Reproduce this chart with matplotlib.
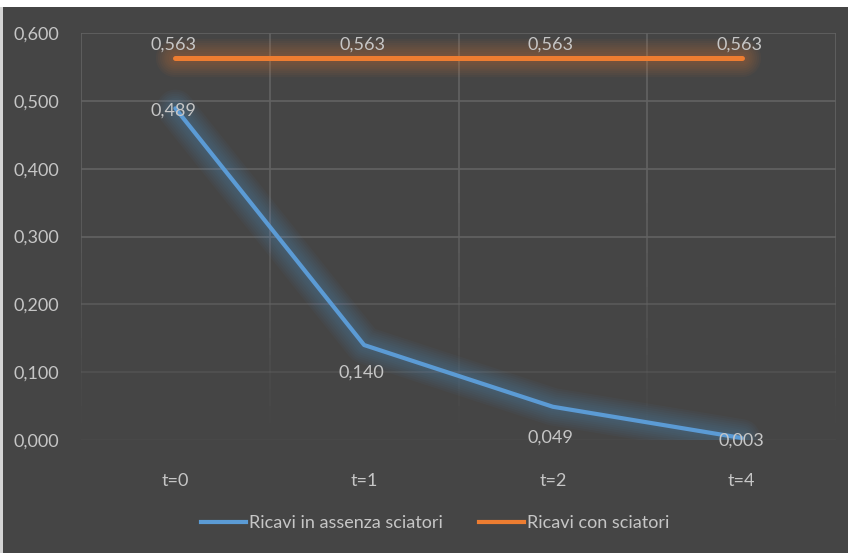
import matplotlib
matplotlib.use("Agg")
import matplotlib.pyplot as plt
from matplotlib.lines import Line2D
from matplotlib.patches import Rectangle

# Data
categories = ["t=0", "t=1", "t=2", "t=4"]
ricavi_assenza = [0.489, 0.140, 0.049, 0.003]
ricavi_con = [0.563, 0.563, 0.563, 0.563]
y_ticks = [0.0, 0.1, 0.2, 0.3, 0.4, 0.5, 0.6]
series_names = ["Ricavi in assenza sciatori", "Ricavi con sciatori"]

BG = "#454545"
TXT = "#c6c6c6"
BLUE = "#5b9bd5"
ORANGE = "#ed7d31"
FONT = ["Lato", "DejaVu Sans"]
FS = 13

plt.rcParams["font.family"] = FONT

W, H = 848, 553
fig = plt.figure(figsize=(W / 100, H / 100), dpi=100)
fig.patch.set_facecolor(BG)

# outer frame strips
fig.patches.append(Rectangle((0, 1 - 7 / H), 1, 7 / H, transform=fig.transFigure,
                             facecolor="white", edgecolor="none", zorder=0))
fig.patches.append(Rectangle((0, 0), 3 / W, 1 - 7 / H, transform=fig.transFigure,
                             facecolor="#d4d4d4", edgecolor="none", zorder=0))

left, right, top, bottom = 81, 836, 33, 440
ax = fig.add_axes([left / W, 1 - bottom / H, (right - left) / W, (bottom - top) / H])
ax.set_facecolor(BG)
for s in ax.spines.values():
    s.set_visible(False)

x = list(range(len(categories)))
ax.set_xlim(-0.5, len(categories) - 0.5)
ax.set_ylim(0, 0.6)

GRID = "#636363"
# gridlines, fading toward the bottom of the plot area
for yv in y_ticks:
    a = 0.12 + 0.88 * min(1.0, yv / 0.3)
    ax.axhline(yv, color=GRID, lw=1.2, alpha=a, zorder=1)
steps = 24
for xv in [-0.5, 0.5, 1.5, 2.5, 3.5]:
    for i in range(steps):
        y0 = 0.6 - i * 0.6 / steps
        y1 = y0 - 0.6 / steps
        mid = (y0 + y1) / 2
        a = max(0.0, min(1.0, (mid - 0.02) / 0.35))
        ax.plot([xv, xv], [y0, y1], color=GRID, lw=1.2, alpha=a,
                solid_capstyle="butt", zorder=1)


def glow_line(values, color, lw):
    for extra in range(24, 2, -3):
        ax.plot(x, values, color=color, lw=lw + extra, alpha=0.045,
                solid_capstyle="round", solid_joinstyle="round", zorder=2)
    ax.plot(x, values, color=color, lw=lw, solid_capstyle="round",
            solid_joinstyle="round", zorder=3)


glow_line(ricavi_assenza, BLUE, 3.0)
glow_line(ricavi_con, ORANGE, 3.6)

fmt = lambda v: f"{v:.3f}".replace(".", ",")

# data labels (offsets in points)
blue_offsets = [(-1.5, -2), (-2, -20), (-1.5, -22.5), (-0.5, -2)]
for xi, v, off in zip(x, ricavi_assenza, blue_offsets):
    ax.annotate(fmt(v), (xi, v), xytext=off, textcoords="offset points",
                ha="center", va="center", color=TXT, fontsize=FS, zorder=5)
for xi, v in zip(x, ricavi_con):
    ax.annotate(fmt(v), (xi, v), xytext=(-1.5, 10), textcoords="offset points",
                ha="center", va="center", color=TXT, fontsize=FS, zorder=5)

ax.set_xticks(x)
ax.set_xticklabels(categories)
ax.set_yticks(y_ticks)
ax.set_yticklabels([fmt(v) for v in y_ticks])
ax.tick_params(axis="both", length=0, colors=TXT, labelsize=FS)
ax.tick_params(axis="x", pad=24)
ax.tick_params(axis="y", pad=16)

handles = [Line2D([], [], color=BLUE, lw=3), Line2D([], [], color=ORANGE, lw=3)]
fig.legend(handles, series_names, loc="center", bbox_to_anchor=(435 / W, 1 - 523 / H),
           ncol=2, frameon=False, fontsize=FS, labelcolor=TXT, handlelength=2.5,
           handletextpad=0.15, columnspacing=2.0)

fig.savefig("out.png", dpi=100, facecolor=BG)
